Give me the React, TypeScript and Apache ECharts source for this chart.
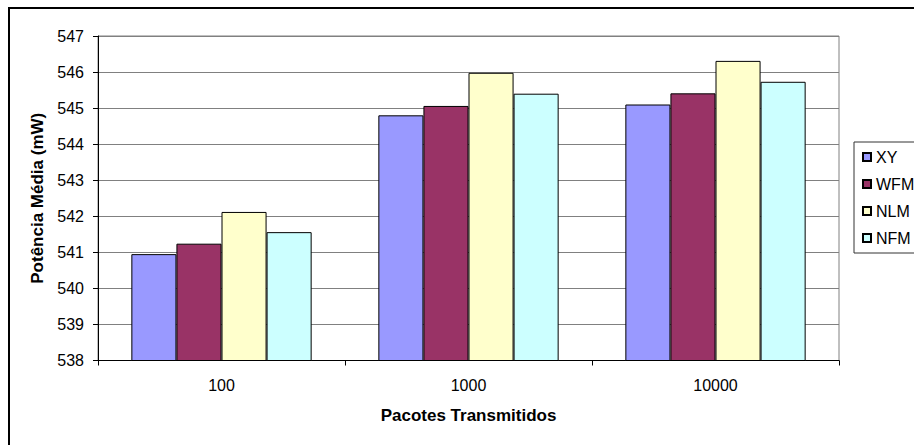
import React, { useEffect, useRef } from "react";
import * as echarts from "echarts";

const categories = ["100", "1000", "10000"];
const seriesNames = ["XY", "WFM", "NLM", "NFM"];
const xyValues = [540.95, 544.8, 545.1];
const wfmValues = [541.24, 545.06, 545.41];
const nlmValues = [542.12, 545.98, 546.31];
const nfmValues = [541.56, 545.4, 545.73];
const colors = ["#9999FF", "#993366", "#FFFFCC", "#CCFFFF"];

export default function App() {
  const ref = useRef<HTMLDivElement>(null);
  useEffect(() => {
    if (!ref.current) return;
    const chart = echarts.init(ref.current, undefined, { renderer: "svg" });
    const font = "Liberation Sans, Arial, sans-serif";
    const values = [xyValues, wfmValues, nlmValues, nfmValues];
    chart.setOption({
      animation: false,
      backgroundColor: "#fff",
      textStyle: { fontFamily: font },
      graphic: [
        {
          type: "rect",
          shape: { x: 9, y: 8, width: 1000, height: 1000 },
          style: { fill: "none", stroke: "#000", lineWidth: 2 },
          z: 100,
        },
      ],
      grid: {
        left: 98,
        right: 75,
        top: 36,
        bottom: 84.5,
        show: true,
        borderColor: "#808080",
        borderWidth: 1,
        backgroundColor: "transparent",
      },
      legend: {
        orient: "vertical",
        left: 854,
        top: 142,
        data: seriesNames,
        itemWidth: 8,
        itemHeight: 8,
        itemGap: 11,
        icon: "rect",
        padding: [7, 30, 7, 8],
        borderColor: "#333",
        borderWidth: 1,
        textStyle: { fontSize: 16, lineHeight: 16, color: "#000", fontFamily: font },
      },
      xAxis: {
        type: "category",
        data: categories,
        name: "Pacotes Transmitidos",
        nameLocation: "middle",
        nameGap: 46,
        nameTextStyle: { fontSize: 17, fontWeight: "bold", color: "#000", fontFamily: font },
        axisLine: { lineStyle: { color: "#000", width: 1 } },
        axisTick: { show: true, length: 5, lineStyle: { color: "#000" } },
        axisLabel: { fontSize: 16, color: "#000", margin: 17, fontFamily: font },
        splitLine: { show: false },
      },
      yAxis: {
        type: "value",
        min: 538,
        max: 547,
        interval: 1,
        name: "Potência Média (mW)",
        nameLocation: "middle",
        nameGap: 51,
        nameTextStyle: { fontSize: 17, fontWeight: "bold", color: "#000", fontFamily: font },
        axisLine: { show: true, lineStyle: { color: "#000", width: 1 } },
        axisTick: { show: true, length: 5, lineStyle: { color: "#000" } },
        axisLabel: { fontSize: 16, color: "#000", margin: 14, fontFamily: font },
        splitLine: { show: true, lineStyle: { color: "#808080", width: 1 } },
      },
      series: seriesNames.map((name, i) => ({
        name,
        type: "bar",
        data: values[i],
        barGap: "0%",
        barCategoryGap: "27%",
        itemStyle: { color: colors[i], borderColor: "#000", borderWidth: 1 },
      })),
    });
    return () => chart.dispose();
  }, []);
  return (
    <div
      ref={ref}
      style={{ position: "fixed", left: 0, top: 0, width: 914, height: 445 }}
    />
  );
}
